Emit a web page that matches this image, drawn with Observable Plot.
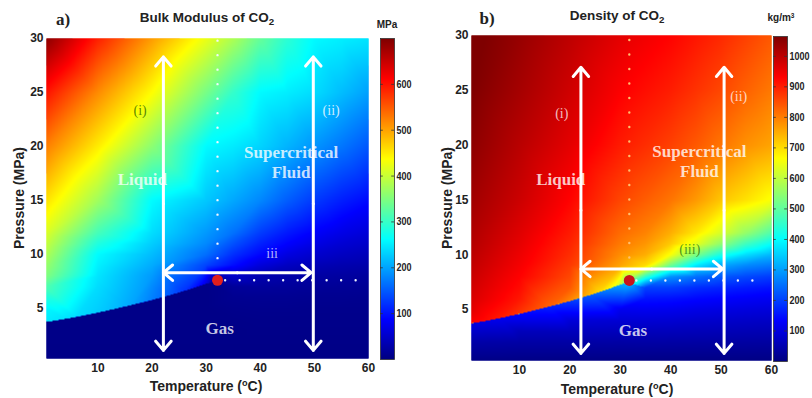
<!DOCTYPE html>
<html><head><meta charset="utf-8">
<script src="https://cdn.jsdelivr.net/npm/d3@7"></script>
<script src="https://cdn.jsdelivr.net/npm/@observablehq/plot@0.6"></script>
<style>
body{margin:0;background:#fff;}
#wrap{position:relative;width:812px;height:398px;overflow:hidden;font-family:"Liberation Sans",Arial,sans-serif;color:#222;}
#wrap svg{position:absolute;top:0;}
.lbl{position:absolute;white-space:nowrap;line-height:1;}
</style>
</head><body><div id="wrap"></div>
<script>
// ---------- data ----------
const tempCols = [0.5, 10, 20, 30, 35, 40, 45, 50, 55, 60];            // °C
const pressRows = [30, 25, 20, 15, 12, 11, 10, 9, 8, 7, 6, 5, 4, 3, 2, 0.35]; // MPa
// bulk modulus (MPa), rows = pressRows, cols = tempCols (null: too close to the phase boundary)
const bulkGrid = [
  [690, 591, 505, 424, 381, 332, 292, 260, 252, 245],
  [600, 517, 438, 345, 298, 260, 251, 239, 218, 198],
  [525, 450, 359, 260, 249, 233, 211, 190, 169, 147],
  [457, 373, 261, 225, 203, 181, 152, 127, 108, 93],
  [413, 310, 240, 193, 166, 129, 104, 85, 71, 61],
  [397, 284, 229, 182, 143, 110, 88, 70, 58, 51],
  [382, 261, 217, 164, 120, 91, 67, 54, 46, 40],
  [366, 253, 206, 134, 96, 63, 46, 38, 33, 30],
  [350, 245, 194, null, 52, 33, 28, 25, 23, 21],
  [317, 239, 183, null, 18, 20, 19, 17, 16, 15],
  [285, 234, null, null, 12, 13, 13, 12, 12, 11],
  [258, null, null, 6, 9, 10, 10, 9, 9, 9],
  [null, null, 6, 6, 7, 8, 8, 8, 8, 8],
  [null, 6, 6, 6, 6, 7, 7, 7, 7, 7],
  [6, 6, 6, 6, 6, 6, 6, 6, 6, 6],
  [5, 5, 5, 5, 5, 5, 5, 5, 5, 5]
];
// density (kg/m3)
const densityGrid = [
  [1075, 1040, 1000, 960, 945, 930, 910, 890, 865, 840],
  [1065, 1025, 982, 935, 918, 902, 880, 858, 830, 805],
  [1050, 1005, 960, 905, 885, 865, 840, 810, 780, 760],
  [1030, 985, 930, 860, 835, 810, 772, 725, 695, 660],
  [1015, 965, 905, 820, 795, 750, 690, 625, 555, 485],
  [1010, 958, 895, 805, 775, 720, 640, 550, 465, 405],
  [1003, 950, 885, 785, 750, 660, 530, 425, 365, 325],
  [996, 942, 872, 760, 700, 510, 375, 305, 275, 258],
  [988, 932, 858, null, 450, 285, 250, 225, 208, 195],
  [980, 922, 840, null, 200, 198, 180, 170, 160, 151],
  [972, 910, null, null, 152, 149, 140, 133, 126, 120],
  [962, null, null, 116, 118, 115, 108, 103, 99, 95],
  [null, null, 93, 88, 89, 87, 82, 79, 76, 73],
  [null, 62, 64, 63, 63, 62, 60, 58, 56, 54],
  [43, 40, 40, 39, 40, 39, 38, 37, 36, 35],
  [8, 7.7, 7.4, 7.2, 7, 7, 7, 7, 7, 6.5]
];
// liquid / gas boundary (saturation curve)
const satTemp  = [0.5, 2, 4, 6, 8, 10, 12, 14, 16, 18, 20, 22, 24, 26, 28, 29, 30, 31.5];
const satPress = [3.75, 3.85, 4.02, 4.2, 4.4, 4.6, 4.82, 5.05, 5.28, 5.52, 5.77, 6.04, 6.32, 6.62, 6.93, 7.1, 7.27, 7.45];
const satBulkLiquid = [248, 246, 243, 239, 234, 228, 221, 213, 203, 190, 175, 160, 142, 122, 98, 85, 65, 12];
const satBulkGas    = [6, 6, 6, 6, 6, 6, 6, 6, 6, 6, 6, 6, 6, 6, 6, 6, 6, 8];
const satDensityLiquid = [935, 928, 918, 907, 893, 878, 862, 846, 830, 812, 790, 765, 738, 705, 668, 645, 610, 500];
const satDensityVapour = [100, 104, 110, 117, 126, 135, 145, 156, 168, 180, 194, 211, 231, 256, 280, 295, 310, 330];

const xTicks = [10, 20, 30, 40, 50, 60];
const yTicks = [5, 10, 15, 20, 25, 30];
const bulkBarTicks = [100, 200, 300, 400, 500, 600];
const densityBarTicks = [100, 200, 300, 400, 500, 600, 700, 800, 900, 1000];

// annotations (data units)
const regionText = ["Liquid", "Supercritical", "Fluid", "Gas"];
const regionT = [18.2, 45.7, 45.7, 32.5];
const regionP = [16.9, 19.4, 17.6, 3.1];
const pathTextA = ["(i)", "(ii)", "iii"];
const pathTA = [17.8, 53.1, 42.2];
const pathPA = [23.3, 23.3, 10.1];
const pathTextB = ["(i)", "(ii)", "(iii)"];
const pathTB = [18.4, 53.5, 43.8];
const pathPB = [22.9, 24.4, 10.5];
const criticalA = {T: 32.1, P: 7.6};
const criticalB = {T: 31.8, P: 7.65};
const arrowsA = {left: 22.1, right: 49.8, top: 28.3, bottom: 1.1, level: 8.3, hRight: 49.4};
const arrowsB = {left: 22.2, right: 50.6, top: 27.1, bottom: 1.0, level: 8.7, hRight: 50.3};

// ---------- helpers ----------
const jet = d3.piecewise(d3.interpolateRgb, ["#00007f","#0000ff","#007fff","#00ffff","#7fff7f","#ffff00","#ff7f00","#ff0000","#7f0000"]);
const wrap = document.getElementById("wrap");
const SANS = "Liberation Sans, Arial, sans-serif";
const SERIF = "Liberation Serif, Times New Roman, serif";

function buildPoints(grid, liq, gas) {
  const pts = [];
  pressRows.forEach((P, i) => tempCols.forEach((T, j) => {
    const v = grid[i][j];
    if (v != null) pts.push({T, P, v});
  }));
  satTemp.forEach((T, k) => {
    pts.push({T, P: satPress[k] + 0.003, v: liq[k]});
    pts.push({T, P: satPress[k] - 0.003, v: gas[k]});
  });
  return pts;
}

function arrowRows(a) {
  const mid = (a.top + a.bottom) / 2, hm = (a.left + a.hRight) / 2;
  return [
    {x1: a.left, y1: mid, x2: a.left, y2: a.top},
    {x1: a.left, y1: mid, x2: a.left, y2: a.bottom},
    {x1: a.right, y1: mid, x2: a.right, y2: a.top},
    {x1: a.right, y1: mid, x2: a.right, y2: a.bottom},
    {x1: hm, y1: a.level, x2: a.left, y2: a.level},
    {x1: hm, y1: a.level, x2: a.hRight, y2: a.level}
  ];
}

function panel(opts) {
  const points = buildPoints(opts.grid, opts.liq, opts.gas);
  const regions = regionText.map((t, i) => ({t, T: regionT[i], P: regionP[i]}));
  const paths = opts.pathText.map((t, i) => ({t, T: opts.pathT[i], P: opts.pathP[i], c: opts.pathColor[i], o: opts.pathOpacity[i], f: opts.pathFont[i]}));
  const c = opts.critical;
  return Plot.plot({
    width: opts.width, height: 398,
    marginLeft: opts.ml, marginRight: opts.mr, marginTop: opts.mt, marginBottom: opts.mb,
    x: {domain: [0.5, 60], label: null},
    y: {domain: [0.35, 30], label: null},
    color: {type: "linear", domain: opts.domain, interpolate: jet, clamp: true},
    style: {background: "transparent", overflow: "visible", fontFamily: SANS},
    marks: [
      Plot.raster(points, {x: "T", y: "P", fill: "v", interpolate: "nearest"}),
      Plot.raster(points, {x: "T", y: "P", fill: "v", interpolate: "barycentric"}),
      Plot.axisX({ticks: xTicks, tickSize: 0, tickPadding: 5, fontSize: 12, fontWeight: "bold", fill: "#222", label: null}),
      Plot.axisY({ticks: yTicks, tickSize: 0, tickPadding: 3, fontSize: 12, fontWeight: "bold", fill: "#222", label: null}),
      Plot.ruleX([c.T], {y1: opts.vDotFrom, y2: 30, stroke: opts.vDotColor, strokeWidth: 2.4, strokeDasharray: "0 14.5", strokeLinecap: "round"}),
      Plot.ruleY([c.P], {x1: c.T + 1.5, x2: 59, stroke: "#eef2ff", strokeWidth: 2.4, strokeDasharray: "0 14.5", strokeLinecap: "round"}),
      Plot.arrow(arrowRows(opts.arrows), {x1: "x1", y1: "y1", x2: "x2", y2: "y2", stroke: "white", strokeWidth: 3, headLength: 6, headAngle: 80}),
      Plot.dot([c], {x: "T", y: "P", r: 5.5, fill: opts.dotColor, stroke: "none"}),
      Plot.text(regions, {x: "T", y: "P", text: "t", fill: "white", fillOpacity: 0.78, fontFamily: SERIF, fontWeight: "bold", fontSize: 17}),
      Plot.text(paths, {x: "T", y: "P", text: "t", fill: "c", fillOpacity: "o", fontFamily: "f", fontSize: 14})
    ]
  });
}

function colorbar(domain, ticks, mt, mb, fontSize) {
  const svg = Plot.plot({
    width: 50, height: 398, marginLeft: 10, marginRight: 26, marginTop: mt, marginBottom: mb,
    x: {domain: [0, 1], axis: null},
    y: {domain: domain, axis: null},
    color: {type: "linear", domain: domain, interpolate: jet, clamp: true},
    style: {background: "transparent", overflow: "visible", fontFamily: SANS},
    marks: [
      Plot.raster({x1: 0, x2: 1, y1: domain[0], y2: domain[1], fill: (x, y) => y}),
      Plot.ruleY(ticks, {x1: 0, x2: 0.2, stroke: "#333", strokeWidth: 0.8}),
      Plot.ruleY(ticks, {x1: 0.8, x2: 1, stroke: "#333", strokeWidth: 0.8}),
      Plot.axisY({anchor: "right", ticks, tickFormat: (d) => String(d), tickSize: 0, tickPadding: 2, fontSize, fontWeight: "bold", fill: "#222", label: null}),
      Plot.frame({stroke: "#333", strokeWidth: 0.8})
    ]
  });
  // the reference's colour-bar labels are narrow: compress the glyphs a little
  d3.select(svg).selectAll("text").each(function () {
    this.setAttribute("textLength", this.textContent.length * 5.0);
    this.setAttribute("lengthAdjust", "spacingAndGlyphs");
  });
  return svg;
}

function addSvg(node, left) { node.style.left = left + "px"; wrap.append(node); }
function addLabel(html, cx, cy, css, rot) {
  const d = document.createElement("div");
  d.className = "lbl";
  d.innerHTML = html;
  d.style.left = cx + "px"; d.style.top = cy + "px";
  d.style.transform = "translate(-50%,-50%)" + (rot ? " rotate(-90deg)" : "");
  d.style.cssText += css;
  wrap.append(d);
}

// ---------- panel a ----------
addSvg(panel({
  width: 406, ml: 46, mr: 38, mt: 38, mb: 40,
  grid: bulkGrid, liq: satBulkLiquid, gas: satBulkGas, domain: [0, 700],
  pathText: pathTextA, pathT: pathTA, pathP: pathPA,
  pathColor: ["#4a7a00", "white", "white"], pathOpacity: [0.9, 0.8, 0.7],
  pathFont: [SERIF, SERIF, SANS],
  critical: criticalA, arrows: arrowsA, vDotFrom: 9.6, vDotColor: "#f4f8ff", dotColor: "#e01e1e"
}), 0);
addSvg(colorbar([0, 700], bulkBarTicks, 38, 39, 11), 370);

// ---------- panel b ----------
addSvg(panel({
  width: 406, ml: 65, mr: 41, mt: 35, mb: 38,
  grid: densityGrid, liq: satDensityLiquid, gas: satDensityVapour, domain: [0, 1065],
  pathText: pathTextB, pathT: pathTB, pathP: pathPB,
  pathColor: ["white", "white", "#3a8a1a"], pathOpacity: [0.75, 0.75, 0.9],
  pathFont: [SERIF, SERIF, SANS],
  critical: criticalB, arrows: arrowsB, vDotFrom: 9.7, vDotColor: "#ffc070", dotColor: "#c8141a"
}), 406);
addSvg(colorbar([0, 1065], densityBarTicks, 36, 37, 10), 763);

// ---------- titles and axis labels ----------
const bold = "font-weight:bold;font-family:" + SANS + ";";
const sub = '<span style="font-size:0.72em;position:relative;top:0.35em">2</span>';
const sup = (s) => '<span style="font-size:0.65em;position:relative;top:-0.5em">' + s + '</span>';
addLabel("a)", 63, 19, "font-weight:bold;font-size:17px;font-family:" + SERIF + ";");
addLabel("Bulk Modulus of CO" + sub, 207, 18, bold + "font-size:13.5px;");
addLabel("MPa", 387, 25, bold + "font-size:10px;");
addLabel("b)", 487, 18, "font-weight:bold;font-size:17px;font-family:" + SERIF + ";");
addLabel("Density of CO" + sub, 617, 16, bold + "font-size:13.5px;");
addLabel("kg/m" + sup("3"), 781, 18, bold + "font-size:10px;");
addLabel("Temperature (" + sup("o") + "C)", 206, 386, bold + "font-size:14px;");
addLabel("Temperature (" + sup("o") + "C)", 617, 389, bold + "font-size:14px;");
addLabel("Pressure (MPa)", 19, 198, bold + "font-size:14px;", true);
addLabel("Pressure (MPa)", 447, 198, bold + "font-size:14px;", true);
</script></body></html>
